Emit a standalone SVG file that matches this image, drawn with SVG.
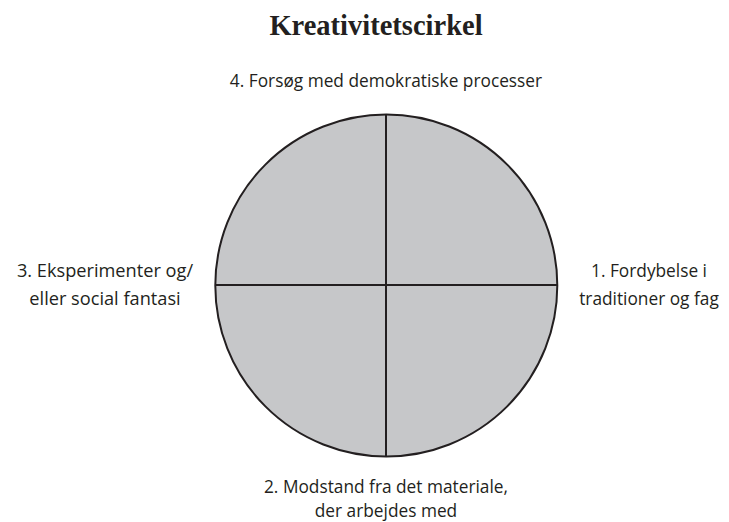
<svg xmlns="http://www.w3.org/2000/svg" width="729" height="522" viewBox="0 0 729 522">
<style>
.t{font-family:"Open Sans","Noto Sans","Liberation Sans",sans-serif;font-size:17.3px;fill:#231f20;text-anchor:middle}
.b{font-size:18.2px}
.h{font-family:"Liberation Serif","DejaVu Serif",serif;font-size:28.5px;font-weight:bold;fill:#231f20;text-anchor:middle}
.ln{stroke:#231f20;stroke-width:2;fill:none}
</style>
<rect width="729" height="522" fill="#fff"/>
<text id="title" class="h" x="376" y="35">Kreativitetscirkel</text>
<g id="circle">
<circle cx="386.3" cy="285.5" r="171" fill="#c6c7c9" stroke="#231f20" stroke-width="2"/>
</g>
<g id="connectors">
<line class="ln" x1="386" y1="114.5" x2="386" y2="456.5"/>
<line class="ln" x1="215.3" y1="285" x2="557.3" y2="285"/>
</g>
<g id="label4"><text class="t" x="386" y="87">4. Forsøg med demokratiske processer</text></g>
<g id="label3"><text class="t b" x="105" y="277">3. Eksperimenter og/</text><text class="t b" x="105" y="305">eller social fantasi</text></g>
<g id="label1"><text class="t" x="649" y="277">1. Fordybelse i</text><text class="t" x="649" y="305">traditioner og fag</text></g>
<g id="label2"><text class="t" x="386" y="493">2. Modstand fra det materiale,</text><text class="t" x="386" y="517">der arbejdes med</text></g>
</svg>
